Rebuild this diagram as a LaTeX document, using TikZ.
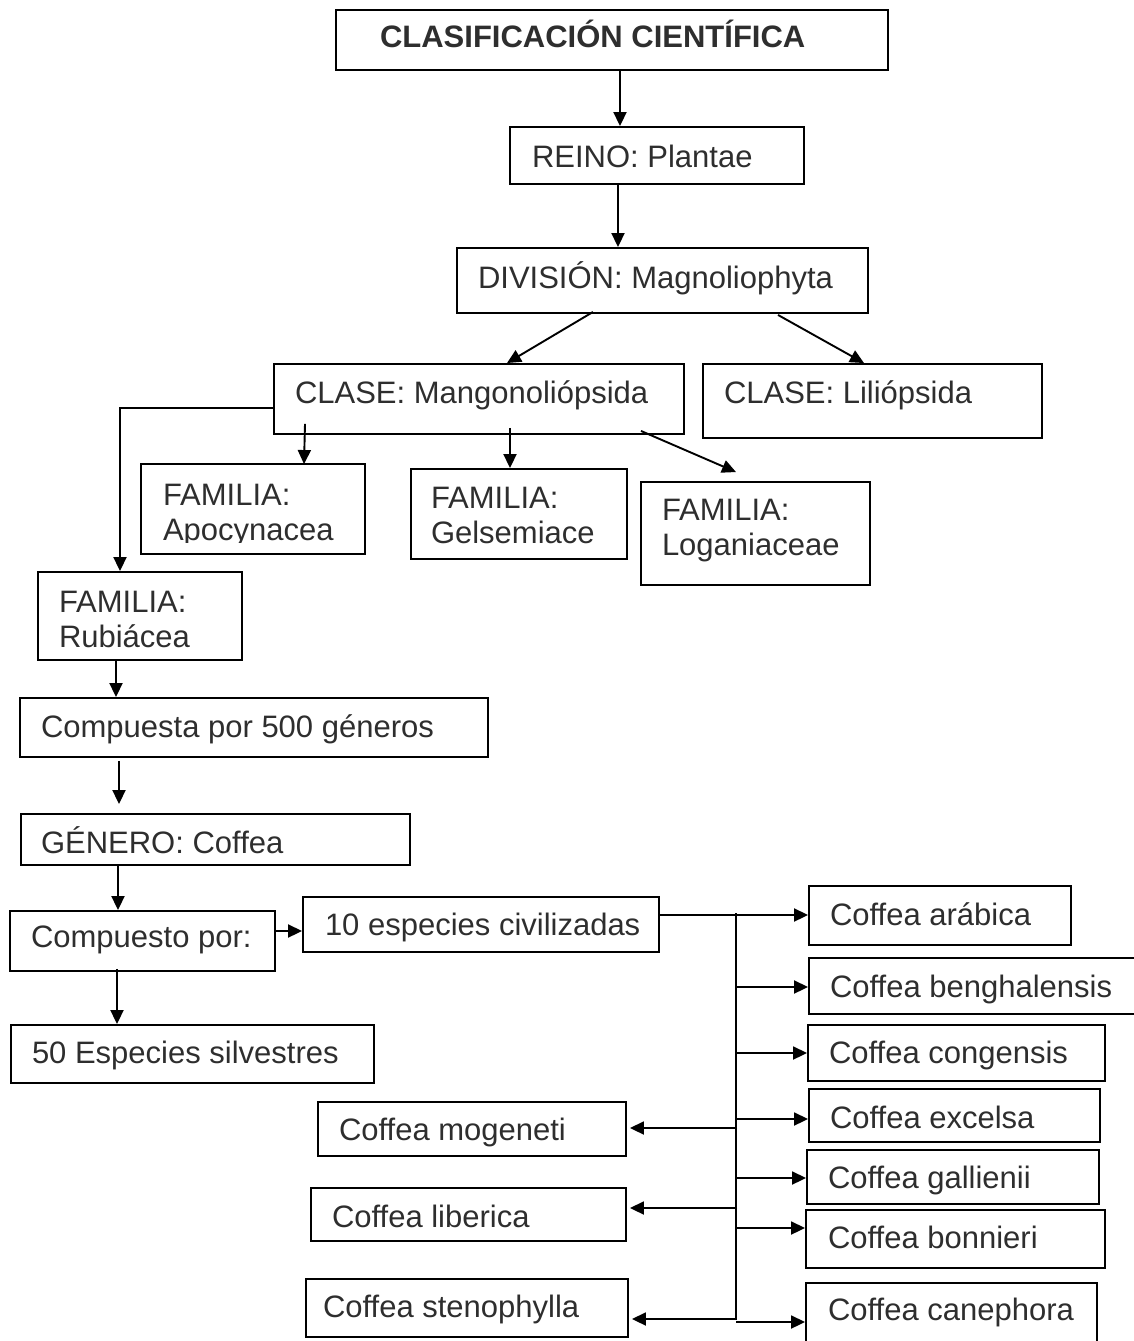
\documentclass[tikz,border=0pt]{standalone}
\usepackage{fontspec}
\setmainfont{Liberation Sans}
\usetikzlibrary{arrows.meta}
\newcommand\tl[3]{\makebox[0pt][l]{\hspace*{#1pt}\raisebox{#2pt}[0pt][0pt]{#3}}}
\newcommand\twol[2]{\begin{tabular}[t]{@{}l@{}}#1\\#2\end{tabular}}
\begin{document}
\begin{tikzpicture}[x=1pt,y=-1pt,
  box/.style={draw=black, line width=1.9pt, rectangle, inner sep=0pt, font=\fontsize{31}{35}\selectfont, text=black!82},
  arr/.style={line width=1.9pt, -{Triangle[length=14pt,width=13pt]}},
  ln/.style={line width=1.9pt}]
\useasboundingbox (0,0) rectangle (1134,1341);

\node[box,minimum width=552pt,minimum height=60pt] (title) at (612,40) {\tl{-232}{-7}{\bfseries CLASIFICACIÓN CIENTÍFICA}};
\node[box,minimum width=294pt,minimum height=57pt] (reino) at (657,155.5) {\tl{-125}{-11.5}{REINO: Plantae}};
\node[box,minimum width=411pt,minimum height=65pt] (div) at (662.5,280.5) {\tl{-184.5}{-7.5}{DIVISIÓN: Magnoliophyta}};
\node[box,minimum width=410pt,minimum height=70pt] (clase) at (479,399) {\tl{-184}{-4}{CLASE: Mangonoliópsida}};
\node[box,minimum width=339pt,minimum height=74pt] (lilio) at (872.5,401) {\tl{-148.5}{-2}{CLASE: Liliópsida}};
\begin{scope}
\clip (130,455) rectangle (380,542);
\node[box,draw=none,minimum width=222pt,minimum height=88pt] (apo) at (253,509) {\tl{-90}{4}{\twol{FAMILIA:}{Apocynacea}}};
\end{scope}
\draw[line width=1.9pt] (apo.north west) rectangle (apo.south east);
\node[box,minimum width=216pt,minimum height=90pt] (gel) at (519,514) {\tl{-88}{6}{\twol{FAMILIA:}{Gelsemiace}}};
\node[box,minimum width=229pt,minimum height=103pt] (log) at (755.5,533.5) {\tl{-93.5}{13.5}{\twol{FAMILIA:}{Loganiaceae}}};
\node[box,minimum width=204pt,minimum height=88pt] (rub) at (140,616) {\tl{-81}{4}{\twol{FAMILIA:}{Rubiácea}}};
\node[box,minimum width=468pt,minimum height=59pt] (comp500) at (254,727.5) {\tl{-213}{-9.5}{Compuesta por 500 géneros}};
\node[box,minimum width=389pt,minimum height=51pt] (gen) at (215.5,839.5) {\tl{-174.5}{-13.5}{GÉNERO: Coffea}};
\node[box,minimum width=265pt,minimum height=60pt] (compto) at (142.5,941) {\tl{-111.5}{-6}{Compuesto por:}};
\node[box,minimum width=356pt,minimum height=55pt] (diez) at (481,924.5) {\tl{-156}{-10.5}{10 especies civilizadas}};
\node[box,minimum width=363pt,minimum height=58pt] (cinc) at (192.5,1054) {\tl{-160.5}{-9}{50 Especies silvestres}};
\node[box,minimum width=262pt,minimum height=59pt] (arab) at (940,915.5) {\tl{-110}{-9.5}{Coffea arábica}};
\node[box,minimum width=341pt,minimum height=56pt] (beng) at (979.5,986) {\tl{-149.5}{-11}{Coffea benghalensis}};
\node[box,minimum width=297pt,minimum height=56pt] (cong) at (956.5,1053) {\tl{-127.5}{-10}{Coffea congensis}};
\node[box,minimum width=291pt,minimum height=53pt] (exc) at (954.5,1115.5) {\tl{-124.5}{-12.5}{Coffea excelsa}};
\node[box,minimum width=292pt,minimum height=54pt] (gal) at (953,1177) {\tl{-125}{-11}{Coffea gallienii}};
\node[box,minimum width=299pt,minimum height=58pt] (bon) at (955.5,1239) {\tl{-127.5}{-9}{Coffea bonnieri}};
\node[box,minimum width=291pt,minimum height=67pt] (can) at (951.5,1316.5) {\tl{-123.5}{-3.5}{Coffea canephora}};
\node[box,minimum width=308pt,minimum height=54pt] (mog) at (472,1129) {\tl{-133}{-11}{Coffea mogeneti}};
\node[box,minimum width=315pt,minimum height=53pt] (lib) at (468.5,1214.5) {\tl{-136.5}{-12.5}{Coffea liberica}};
\node[box,minimum width=322pt,minimum height=58pt] (ste) at (467,1308) {\tl{-144}{-9}{Coffea stenophylla}};

\draw[arr] ([xshift=8pt]title.south) -- ([xshift=-37pt]reino.north);
\draw[arr] ([xshift=-39pt,yshift=2pt]reino.south) -- ([xshift=-44.5pt]div.north);
\draw[arr] ([xshift=-69.5pt,yshift=2pt]div.south) -- ([xshift=28pt]clase.north);
\draw[arr] ([xshift=115.5pt,yshift=-1pt]div.south) -- ([xshift=-8.5pt]lilio.north);
\draw[arr] ([xshift=-174pt,yshift=11pt]clase.south) -- ([xshift=51pt]apo.north);
\draw[arr] ([xshift=31pt,yshift=7pt]clase.south) -- ([xshift=-9pt]gel.north);
\draw[arr] ([xshift=162pt,yshift=4pt]clase.south) -- ([xshift=-19.5pt,yshift=9pt]log.north);
\draw[arr] ([yshift=-9pt]clase.west) -| ([xshift=-20pt]rub.north);
\draw[arr] ([xshift=-24pt]rub.south) -- ([xshift=-138pt]comp500.north);
\draw[arr] ([xshift=-135pt,yshift=-3pt]comp500.south) -- ([xshift=-96.5pt,yshift=9pt]gen.north);
\draw[arr] ([xshift=-97.5pt]gen.south) -- ([xshift=-24.5pt]compto.north);
\coordinate (cpe) at ([yshift=10pt]compto.east);
\draw[arr] (cpe) -- (cpe -| diez.west);
\draw[arr] ([xshift=-25.5pt,yshift=3pt]compto.south) -- ([xshift=-75.5pt]cinc.north);
\coordinate (de) at ([yshift=9.5pt]diez.east);
\draw[arr] (de) -- (de -| arab.west);
\coordinate (ttop) at (736,913);
\coordinate (tbot) at (736,1320);
\draw[ln] (ttop) -- (tbot);
\foreach \n/\y in {beng/987, cong/1053, exc/1119, gal/1178, bon/1228, can/1322} {
  \coordinate (b\n) at (736,\y);
  \draw[arr] (b\n) -- (b\n -| \n.west);
}
\foreach \n/\y in {mog/1128, lib/1208, ste/1319} {
  \coordinate (b\n) at (737,\y);
  \draw[arr, shorten >=3pt] (b\n) -- (b\n -| \n.east);
}
\end{tikzpicture}
\end{document}
